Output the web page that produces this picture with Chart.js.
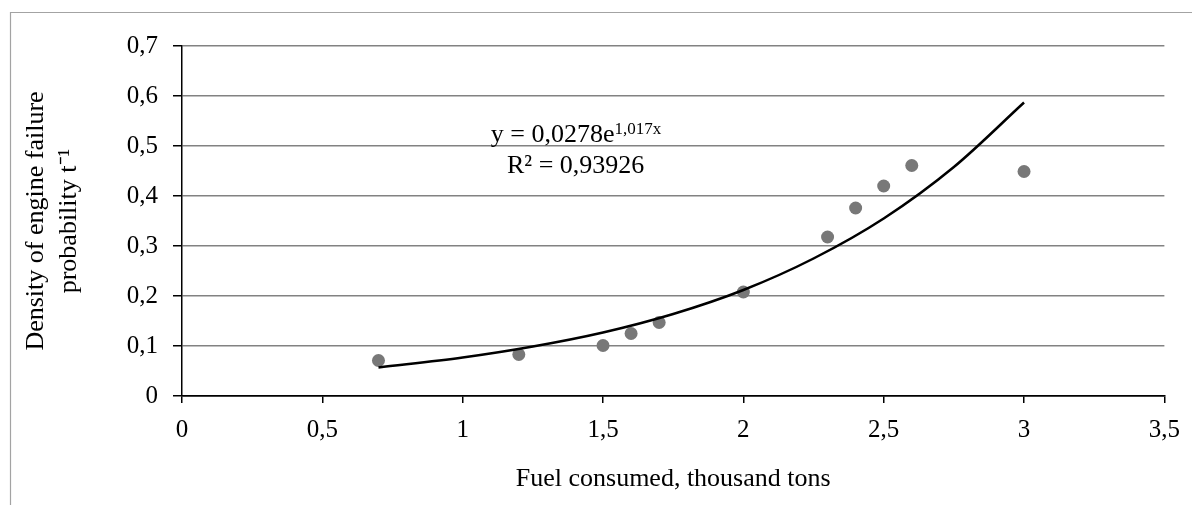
<!DOCTYPE html>
<html>
<head>
<meta charset="utf-8">
<script src="https://cdn.jsdelivr.net/npm/chart.js@4.4.1/dist/chart.umd.min.js"></script>
<style>
  html, body { margin: 0; padding: 0; background: #fff; overflow: hidden; }
  canvas { display: block; }
</style>
</head>
<body>
<canvas id="fuelChart" width="1192" height="505"></canvas>
<script>
// observed points
const fuelConsumed = [0.7, 1.2, 1.5, 1.6, 1.7, 2.0, 2.3, 2.4, 2.5, 2.6, 3.0];
const failureDensity = [0.071, 0.083, 0.101, 0.125, 0.147, 0.208, 0.318, 0.376, 0.420, 0.461, 0.449];

// exponential trend line
const trendX = [0.7, 1.0, 1.25, 1.5, 1.75, 2.0, 2.25, 2.5, 2.75, 3.0];
const trendY = [0.057, 0.077, 0.099, 0.127, 0.164, 0.212, 0.275, 0.355, 0.458, 0.587];

const xTickLabels = ['0', '0,5', '1', '1,5', '2', '2,5', '3', '3,5'];
const yTickLabels = ['0', '0,1', '0,2', '0,3', '0,4', '0,5', '0,6', '0,7'];

const equationMain = 'y = 0,0278e';
const equationSup = '1,017x';
const rSquaredText = 'R² = 0,93926';

const FONT = "'Liberation Serif', 'Times New Roman', serif";

Chart.defaults.font.family = FONT;
Chart.defaults.color = '#000';

const decorPlugin = {
  id: 'decor',
  beforeDraw(chart) {
    const ctx = chart.ctx;
    ctx.save();
    ctx.strokeStyle = '#a3a3a3';
    ctx.lineWidth = 1.2;
    ctx.beginPath();
    ctx.moveTo(10.5, chart.height);
    ctx.lineTo(10.5, 12.5);
    ctx.lineTo(chart.width, 12.5);
    ctx.stroke();
    ctx.restore();
  },
  afterDraw(chart) {
    const ctx = chart.ctx;
    const xs = chart.scales.x;
    const ys = chart.scales.y;
    ctx.save();
    ctx.fillStyle = '#000';
    ctx.textBaseline = 'alphabetic';
    ctx.textAlign = 'left';
    const ex = xs.getPixelForValue(1.1);
    const ey = ys.getPixelForValue(0.509);
    ctx.font = '26px ' + FONT;
    ctx.fillText(equationMain, ex, ey);
    const w = ctx.measureText(equationMain).width;
    ctx.font = '17px ' + FONT;
    ctx.fillText(equationSup, ex + w, ey - 8);
    ctx.font = '26px ' + FONT;
    ctx.fillText(rSquaredText, xs.getPixelForValue(1.158), ys.getPixelForValue(0.446));
    ctx.restore();
  }
};

new Chart(document.getElementById('fuelChart'), {
  type: 'scatter',
  data: {
    datasets: [
      {
        label: 'Density',
        data: fuelConsumed.map((x, i) => ({ x, y: failureDensity[i] })),
        backgroundColor: '#787878',
        borderWidth: 0,
        pointRadius: 6.5,
        order: 2,
      },
      {
        label: 'Trend',
        type: 'line',
        data: trendX.map((x, i) => ({ x, y: trendY[i] })),
        borderColor: '#000',
        borderWidth: 2.5,
        pointRadius: 0,
        fill: false,
        cubicInterpolationMode: 'monotone',
        order: 1,
      },
    ],
  },
  options: {
    responsive: false,
    animation: false,
    layout: {
      padding: { left: 10, top: 46, right: 25, bottom: 0 },
    },
    plugins: {
      legend: { display: false },
      tooltip: { enabled: false },
    },
    scales: {
      x: {
        type: 'linear',
        min: 0,
        max: 3.5,
        afterFit(scale) { scale.height = 109; },
        ticks: {
          stepSize: 0.5,
          padding: 12,
          font: { size: 25 },
          callback: (v, i) => xTickLabels[i],
        },
        grid: {
          drawOnChartArea: false,
          tickLength: 7,
          tickColor: '#000',
          lineWidth: 1.5,
        },
        border: { color: '#000', width: 1.5 },
        title: {
          display: true,
          text: 'Fuel consumed, thousand tons',
          font: { size: 26 },
          padding: { top: 0, bottom: 10 },
        },
      },
      y: {
        type: 'linear',
        min: 0,
        max: 0.7,
        afterFit(scale) { scale.width = 172; },
        ticks: {
          stepSize: 0.1,
          padding: 15,
          font: { size: 25 },
          callback: (v, i) => yTickLabels[i],
        },
        grid: {
          color: (c) => (c.tick && c.tick.value === 0 ? '#000' : '#828282'),
          lineWidth: 1.5,
          tickLength: 9,
          tickColor: '#000',
        },
        border: { color: '#000', width: 1.5 },
        title: {
          display: true,
          text: ['Density of engine failure', 'probability t⁻¹'],
          font: { size: 26, lineHeight: 1.27 },
          padding: { top: 10, bottom: 0 },
        },
      },
    },
  },
  plugins: [decorPlugin],
});
</script>
</body>
</html>
